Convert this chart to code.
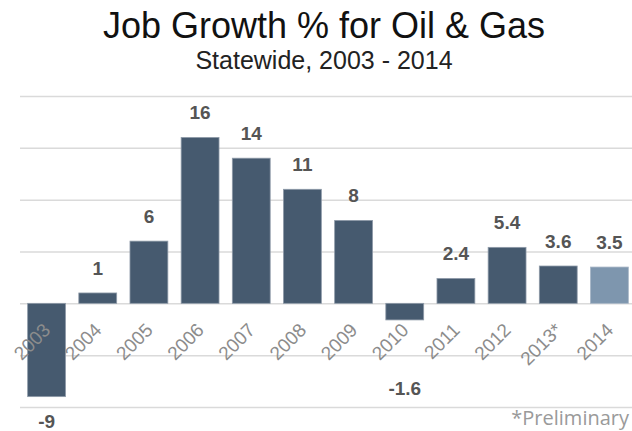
<!DOCTYPE html>
<html>
<head>
<meta charset="utf-8">
<script src="https://cdn.jsdelivr.net/npm/d3@7"></script>
<style>
  body { margin: 0; background: #fff; }
  svg { display: block; }
</style>
</head>
<body>
<div id="chart"></div>
<script>
const years = ["2003", "2004", "2005", "2006", "2007", "2008", "2009", "2010", "2011", "2012", "2013*", "2014"];
const growth = [-9, 1, 6, 16, 14, 11, 8, -1.6, 2.4, 5.4, 3.6, 3.5];
const valueLabels = ["-9", "1", "6", "16", "14", "11", "8", "-1.6", "2.4", "5.4", "3.6", "3.5"];
const gridTicks = [-10, -5, 0, 5, 10, 15, 20];

const BAR_COLOR = "#465a6f";
const LAST_BAR_COLOR = "#7e96ae";

const width = 632;
const height = 431;

const data = years.map((y, i) => ({ year: y, value: growth[i], label: valueLabels[i] }));

const x = d3
    .scaleBand()
    .domain(years)
    .range([21, 635])
    .paddingInner(0.26)
    .paddingOuter(0.13);

const y = d3
    .scaleLinear()
    .domain([-10, 20])
    .range([407, 96]);

const svg = d3
    .select("#chart")
    .append("svg")
    .attr("width", width)
    .attr("height", height);

// title
svg.append("text")
    .attr("x", 324)
    .attr("y", 38)
    .attr("text-anchor", "middle")
    .style("font-family", "'Liberation Sans', Arial, sans-serif")
    .style("font-size", "36px")
    .attr("fill", "#111")
    .text("Job Growth % for Oil & Gas");

svg.append("text")
    .attr("x", 324)
    .attr("y", 69)
    .attr("text-anchor", "middle")
    .style("font-family", "'Liberation Sans', Arial, sans-serif")
    .style("font-size", "25px")
    .attr("fill", "#222")
    .text("Statewide, 2003 - 2014");

// gridlines
const yAxis = d3
    .axisLeft(y)
    .tickValues(gridTicks)
    .tickSize(-(632 - 20))
    .tickFormat("");

svg.append("g")
    .attr("class", "grid")
    .attr("transform", "translate(20,0)")
    .call(yAxis)
    .call(g => g.select(".domain").remove())
    .call(g => g.selectAll("line")
        .attr("stroke", "#dadada")
        .attr("stroke-width", 1.5));

// bars
svg.append("g")
    .selectAll("rect")
    .data(data)
    .join("rect")
    .attr("x", d => x(d.year))
    .attr("width", x.bandwidth())
    .attr("y", d => y(Math.max(0, d.value)))
    .attr("height", d => Math.abs(y(d.value) - y(0)))
    .attr("fill", (d, i) => i === data.length - 1 ? LAST_BAR_COLOR : BAR_COLOR)
    .attr("stroke", (d, i) => i === data.length - 1 ? "#a7b6c6" : "#8e9aa8")
    .attr("stroke-width", 0.8);

// x labels
const xAxis = d3
    .axisBottom(x)
    .tickSize(0);

svg.append("g")
    .attr("class", "xAxis")
    .attr("transform", "translate(0," + y(0) + ")")
    .call(xAxis)
    .call(g => g.select(".domain").remove())
    .selectAll("text")
    .attr("x", 0)
    .attr("y", 0)
    .attr("dy", 0)
    .attr("transform", "translate(5,28) rotate(-45)")
    .style("text-anchor", "end")
    .style("font-family", "'Liberation Sans', Arial, sans-serif")
    .style("font-size", "19px")
    .attr("fill", "#8c8c8c");

// value labels
svg.append("g")
    .selectAll("text")
    .data(data)
    .join("text")
    .attr("x", d => x(d.year) + x.bandwidth() / 2)
    .attr("y", d => d.value >= 0 ? y(d.value) - 18 : Math.max(y(d.value) + 31, y(-8.85)))
    .attr("text-anchor", "middle")
    .style("font-family", "'Liberation Sans', Arial, sans-serif")
    .style("font-size", "19px")
    .style("font-weight", "bold")
    .attr("fill", "#555")
    .text(d => d.label);

// footnote
svg.append("text")
    .attr("x", 629)
    .attr("y", 425)
    .attr("text-anchor", "end")
    .style("font-family", "'Open Sans', sans-serif")
    .style("font-size", "20px")
    .attr("fill", "#9a9a9a")
    .text("*Preliminary");
</script>
</body>
</html>
